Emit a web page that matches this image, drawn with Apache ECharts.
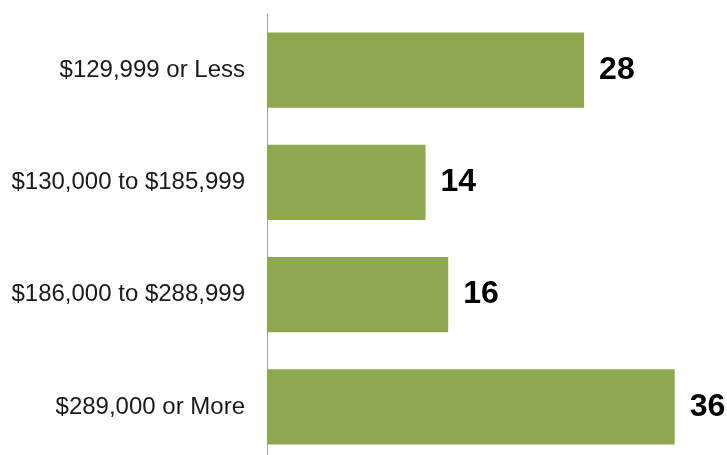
<!DOCTYPE html>
<html>
<head>
<meta charset="utf-8">
<script src="https://cdn.jsdelivr.net/npm/echarts@6/dist/echarts.min.js"></script>
<style>
  html, body { margin: 0; padding: 0; background: #fff; overflow: hidden; }
  #chart { width: 727px; height: 463px; }
</style>
</head>
<body>
<div id="chart"></div>
<script>
// price ranges, top to bottom
const categories = ['$129,999 or Less', '$130,000 to $185,999', '$186,000 to $288,999', '$289,000 or More'];
const counts = [28, 14, 16, 36];

const chart = echarts.init(document.getElementById('chart'));
chart.setOption({
  animation: false,
  grid: { left: 267, right: 7, top: 14, bottom: 0, outerBoundsMode: 'none' },
  xAxis: {
    type: 'value',
    min: 0,
    max: 40,
    show: false
  },
  yAxis: {
    type: 'category',
    inverse: true,
    data: categories,
    axisLine: { show: true, lineStyle: { color: '#a0a0a0', width: 1 } },
    axisTick: { show: false },
    axisLabel: {
      margin: 22,
      color: '#1a1a1a',
      fontSize: 24,
      fontFamily: 'Liberation Sans, Arial, sans-serif'
    }
  },
  series: [{
    type: 'bar',
    data: counts,
    barCategoryGap: '33%',
    itemStyle: { color: '#8ea84f' },
    label: {
      show: true,
      position: 'right',
      distance: 15,
      color: '#000',
      fontSize: 32,
      fontWeight: 'bold',
      fontFamily: 'Liberation Sans, Arial, sans-serif'
    }
  }]
});
</script>
</body>
</html>
